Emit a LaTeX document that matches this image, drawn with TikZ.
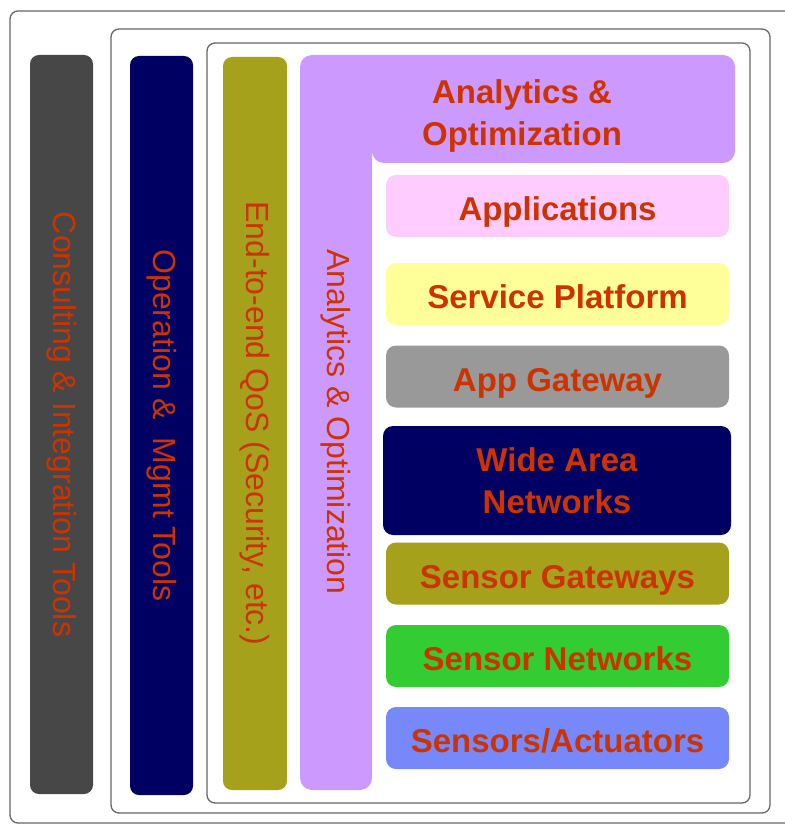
\documentclass[tikz,border=0pt]{standalone}
\usepackage{fontspec}
\setmainfont{Liberation Sans}
\usetikzlibrary{positioning}

\definecolor{toolgray}{HTML}{474747}
\definecolor{navy}{HTML}{000062}
\definecolor{olive}{HTML}{A6A11A}
\definecolor{lilac}{HTML}{CC99FF}
\definecolor{pink}{HTML}{FFCCFF}
\definecolor{paleyellow}{HTML}{FFFF99}
\definecolor{midgray}{HTML}{999999}
\definecolor{green}{HTML}{33CC33}
\definecolor{periwinkle}{HTML}{7788FA}
\definecolor{labelred}{HTML}{CC3300}

\begin{document}
\begin{tikzpicture}[x=1pt, y=-1pt,
frame/.style = {draw=black!60, line width=1.3pt, rounded corners=8pt},
bar/.style = {fill=#1, rounded corners=9pt, rotate=-90,
	minimum height=63pt, inner sep=0pt,
	text=labelred, font=\fontsize{32}{40}\selectfont},
layer/.style = {fill=#1, rounded corners=10pt,
	minimum width=343pt, minimum height=62pt, inner sep=0pt,
	text=labelred, align=center, text depth=0pt,
	font=\bfseries\fontsize{33}{42}\selectfont}
]
\useasboundingbox (0,0) rectangle (784,826);
% Draw the nested frames
\draw[frame] (10,11) rectangle (800,823);
\draw[frame] (111,29) rectangle (770,813);
\draw[frame] (207,43) rectangle (750,803);

% Draw the vertical bars
\node[bar=toolgray, minimum width=739pt] (consult) at (61.5,424.5)
{Consulting \& Integration Tools};
\node[bar=navy, minimum width=739pt] (oper) at (161.5,425.5)
{Operation \&\ \ Mgmt Tools};
\node[bar=olive, minimum width=733pt, minimum height=64pt] (qos) at (255,423.5)
{End-to-end QoS (Security, etc.)};

% Draw the analytics frame
\fill[lilac, rounded corners=12pt] (300,790) -- (300,55) -- (735,55)
-- (735,163) -- (372,163) [sharp corners] -- (372,163) [rounded corners=12pt]
-- (372,790) -- cycle;
\node[text=labelred, font=\fontsize{32}{40}\selectfont, rotate=-90] (ana-v)
at (336,422) {Analytics \& Optimization};
\node[text=labelred, align=center, text depth=0pt,
font=\bfseries\fontsize{33}{42}\selectfont]
(ana-h) at (522,113) {Analytics \&\\Optimization};

% Draw the layers
\foreach \y/\col/\name [count=\i] in
{206/pink/Applications, 294/paleyellow/Service Platform,
	376.5/midgray/App Gateway, 573.5/olive/Sensor Gateways,
	656/green/Sensor Networks, 738/periwinkle/{Sensors/Actuators}}
\node[layer=\col, text height=29pt] (L-\i) at (557.5,\y) {\name};
\node[layer=navy, minimum width=348pt, minimum height=109pt] (wan)
at (557,480.5) {Wide Area\\Networks};
\end{tikzpicture}
\end{document}
